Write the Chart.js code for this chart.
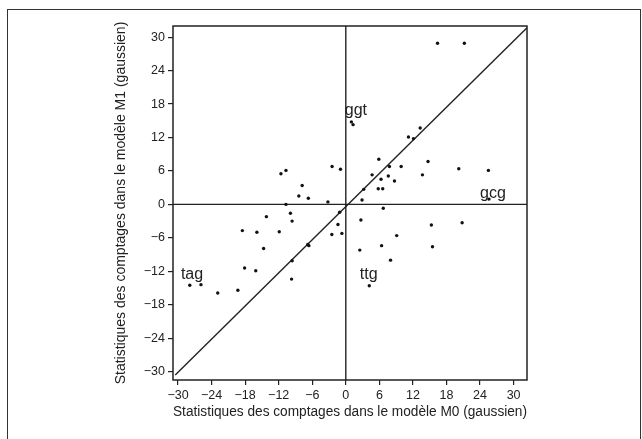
<!DOCTYPE html>
<html>
<head>
<meta charset="utf-8">
<script src="https://cdn.jsdelivr.net/npm/chart.js@4.4.0/dist/chart.umd.min.js"></script>
<style>
    html, body { margin: 0; padding: 0; background: #fff; }
    #wrap { position: relative; width: 642px; height: 439px; overflow: hidden; }
    #box { position: absolute; left: 7px; top: 9px; width: 632px; height: 470px; border: 1px solid #333; border-bottom: none; }
    #chart { position: absolute; left: 0; top: 0; }
</style>
</head>
<body>
<div id="wrap">
    <div id="box"></div>
    <canvas id="chart" width="642" height="439"></canvas>
</div>
<script>
// count statistics, model M0 (x) vs model M1 (y)
const xValues = [
    16.4, 21.2, 1.0, 1.3, 11.2, 12.1, 13.3, 5.9, 7.8, 9.9, 14.7, 13.7, 20.2, 25.5, 25.6,
    4.7, 7.6, 6.3, 8.7, 5.8, 6.6, 3.2, 2.9,
    -11.6, -10.7, -7.8, -8.4, -6.7, -3.2, -2.45, -0.95, -10.7,
    -1.1, -1.4, -2.5, -0.7, -9.9, -9.6, -14.2, -18.5, -15.9, -11.9, -14.7, -6.8, -6.6,
    -9.6, -9.7, -18.1, -16.1, -19.3, -22.9, -27.9, -25.9,
    6.7, 2.7, 15.3, 20.8, 9.1, 6.4, 2.5, 15.5, 8.0, 4.2
];
const yValues = [
    28.9, 28.9, 14.8, 14.3, 12.1, 11.8, 13.7, 8.1, 6.8, 6.8, 7.7, 5.3, 6.4, 6.1, 0.95,
    5.3, 5.1, 4.5, 4.2, 2.8, 2.8, 2.7, 0.8,
    5.5, 6.1, 3.4, 1.5, 1.1, 0.45, 6.8, 6.3, 0,
    -1.4, -3.6, -5.4, -5.2, -1.6, -3.0, -2.2, -4.7, -5.0, -4.9, -7.9, -7.2, -7.4,
    -10.1, -13.4, -11.4, -11.9, -15.4, -15.9, -14.5, -14.4,
    -0.7, -2.8, -3.7, -3.3, -5.6, -7.4, -8.2, -7.6, -10.0, -14.6
];

const tickValues = [-30, -24, -18, -12, -6, 0, 6, 12, 18, 24, 30];
const xRange = [-30.9, 32.4];
const yRange = [-31.5, 32.0];
const diagX = [-30.5, 32.4];
const diagY = [-30.6, 31.7];

const labelNames = ['ggt', 'gcg', 'tag', 'ttg'];
const labelX = [1.8, 26.3, -27.5, 4.1];
const labelY = [16.1, 1.2, -13.4, -13.4];

const xTitle = 'Statistiques des comptages dans le modèle M0 (gaussien)';
const yTitle = 'Statistiques des comptages dans le modèle M1 (gaussien)';

const ink = '#222222';
const fontFamily = '"Liberation Sans", Arial, Helvetica, sans-serif';

const points = [];
for (let i = 0; i < xValues.length; i++) {
    points.push({ x: xValues[i], y: yValues[i] });
}

function line(xs, ys) {
    return {
        type: 'line',
        data: [{ x: xs[0], y: ys[0] }, { x: xs[1], y: ys[1] }],
        borderColor: ink,
        borderWidth: 1.4,
        pointRadius: 0,
        fill: false
    };
}

// frame round the plot area
const framePlugin = {
    id: 'frame',
    afterDatasetsDraw(chart) {
        const a = chart.chartArea;
        const ctx = chart.ctx;
        ctx.save();
        ctx.strokeStyle = ink;
        ctx.lineWidth = 1.5;
        ctx.strokeRect(a.left, a.top, a.right - a.left, a.bottom - a.top);
        ctx.restore();
    }
};

// codon names next to their points
const labelPlugin = {
    id: 'codons',
    afterDatasetsDraw(chart) {
        const ctx = chart.ctx;
        const xs = chart.scales.x;
        const ys = chart.scales.y;
        ctx.save();
        ctx.fillStyle = ink;
        ctx.font = '16px ' + fontFamily;
        ctx.textAlign = 'center';
        ctx.textBaseline = 'alphabetic';
        for (let i = 0; i < labelNames.length; i++) {
            ctx.fillText(labelNames[i], xs.getPixelForValue(labelX[i]), ys.getPixelForValue(labelY[i]));
        }
        ctx.restore();
    }
};

function axis(range, title, fit) {
    return {
        type: 'linear',
        min: range[0],
        max: range[1],
        afterBuildTicks: function (scale) {
            scale.ticks = tickValues.map(v => ({ value: v }));
        },
        afterFit: fit,
        ticks: {
            color: ink,
            padding: 3,
            font: { size: 12.5, family: fontFamily },
            callback: function (value) {
                return value < 0 ? '\u2212' + Math.abs(value) : String(value);
            }
        },
        grid: {
            drawOnChartArea: false,
            tickLength: 5,
            color: ink,
            lineWidth: 1.2
        },
        border: { display: false },
        title: {
            display: true,
            text: title,
            color: ink,
            font: { size: 14, family: fontFamily },
            padding: { top: 3, bottom: 1 }
        }
    };
}

new Chart(document.getElementById('chart'), {
    type: 'scatter',
    data: {
        datasets: [
            {
                data: points,
                backgroundColor: '#111111',
                borderWidth: 0,
                pointRadius: 1.7,
                pointHoverRadius: 1.7
            },
            line(diagX, diagY),
            line([0, 0], yRange),
            line(xRange, [0, 0])
        ]
    },
    options: {
        responsive: false,
        animation: false,
        layout: { padding: { left: 110, top: 26, right: 115, bottom: 17 } },
        scales: {
            x: axis(xRange, xTitle, function (scale) { scale.height = 42; }),
            y: axis(yRange, yTitle, function (scale) { scale.width = 63; })
        },
        plugins: {
            legend: { display: false },
            tooltip: { enabled: false }
        }
    },
    plugins: [framePlugin, labelPlugin]
});
</script>
</body>
</html>
